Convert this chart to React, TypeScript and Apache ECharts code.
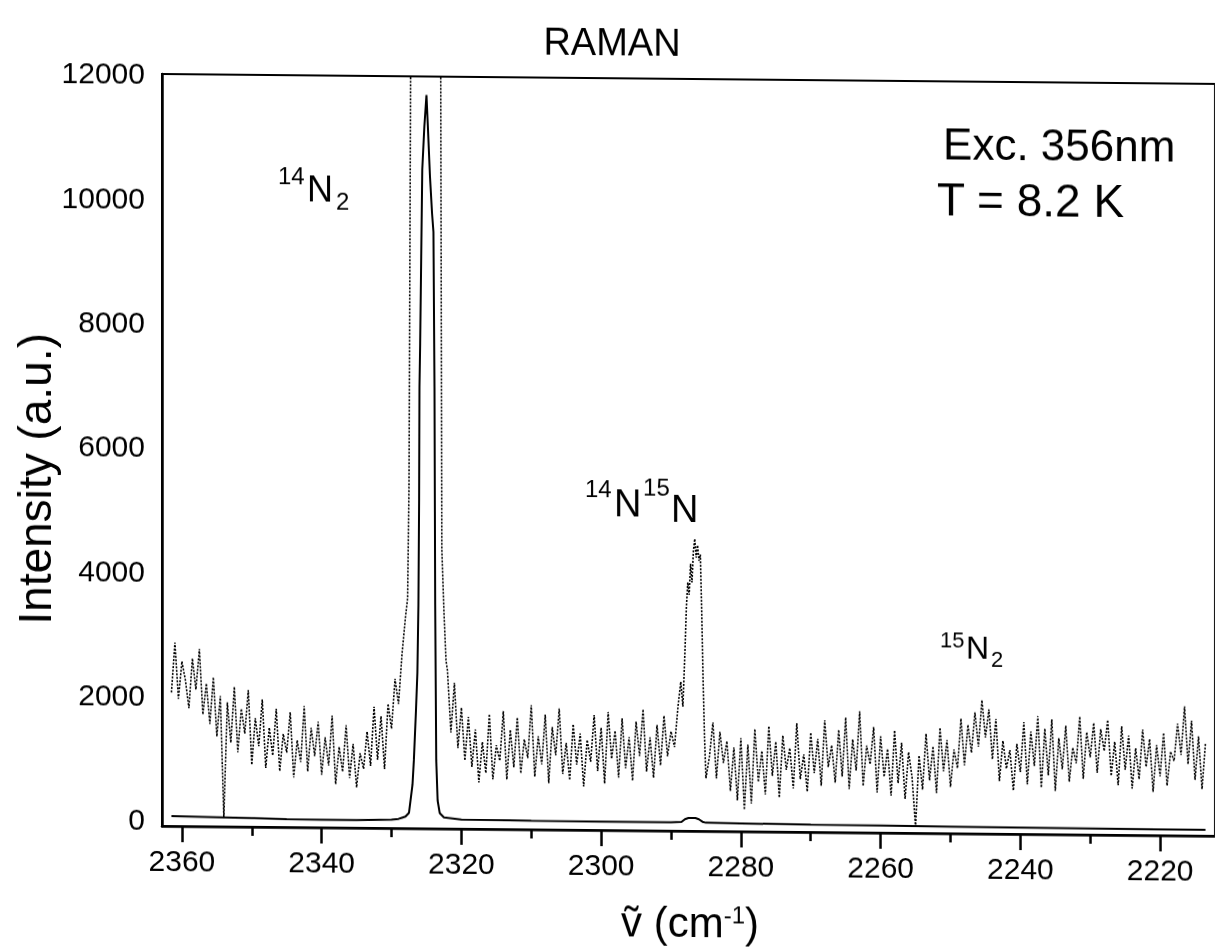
import React, { useEffect, useRef } from "react";
import * as echarts from "echarts";

// ---- axis ticks ----
const xMajorTicks = [2360, 2340, 2320, 2300, 2280, 2260, 2240, 2220];
const xMinorTicks = [2350, 2330, 2310, 2290, 2270, 2250, 2230];
const yTicks = [0, 2000, 4000, 6000, 8000, 10000, 12000];

// ---- magnified (dotted) spectrum, sampled every 0.5 cm-1 ----
const dottedSeg1Start = 2361.5;
const dottedSeg1 = [
  2050, 2850, 1950, 2550, 2250, 1800, 2600, 2100, 2750, 1700,
  2200, 1550, 2300, 1350, 2000, 40, 1900, 1250, 2150, 1100,
  1800, 1400, 2100, 900, 1650, 1200, 1950, 850, 1500, 1050,
  1800, 800, 1400, 1100, 1750, 700, 1300, 950, 1850, 800,
  1500, 1050, 1600, 750, 1350, 900, 1700, 600, 1200, 800,
  1550, 700, 1250, 550, 1100, 850, 1450, 900, 1850, 1000,
  1700, 850, 1900, 1500, 2300, 1900, 2700,
];
// 14N2 region (goes off scale)
const dottedPeak1: [number, number][] = [
  [2328.0, 3300], [2327.7, 3600], [2327.5, 5400], [2327.2, 14000],
  [2327.0, 40000], [2323.2, 40000], [2323.0, 14000], [2322.8, 4400],
  [2322.5, 3400], [2322.2, 2600],
];
const dottedSeg2Start = 2322.0;
const dottedSeg2 = [
  2450, 1450, 2250, 1200, 1850, 1000, 1700, 900, 1500, 650,
  1300, 800, 1750, 700, 1250, 1000, 1800, 700, 1500, 900,
  1700, 800, 1350, 1050, 1900, 750, 1400, 950, 1750, 650,
  1550, 1100, 1850, 800, 1300, 700, 1600, 950, 1450, 600,
  1350, 1000, 1750, 850, 1550, 650, 1800, 1050, 1500, 750,
  1700, 900, 1400, 700, 1650, 1100, 1850, 850, 1400, 750,
  1600, 950, 1750, 1100, 1500, 1250, 1900,
];
// 14N15N region
const dottedPeak2: [number, number][] = [
  [2288.6, 2300], [2288.3, 1900], [2288.0, 2800], [2287.8, 3500],
  [2287.6, 3900], [2287.4, 3700], [2287.2, 4200], [2287.0, 3900],
  [2286.8, 4400], [2286.6, 4600], [2286.4, 4300], [2286.2, 4500],
  [2286.0, 4250], [2285.8, 4350], [2285.6, 3400], [2285.4, 2300],
  [2285.2, 1400], [2285.0, 750],
];
const dottedSeg3Start = 2284.5;
const dottedSeg3 = [
  1100, 1650, 750, 1500, 1000, 1350, 550, 1250, 400, 1400,
  250, 1300, 350, 1550, 700, 1200, 500, 1600, 800, 1350,
  450, 1450, 900, 1250, 600, 1650, 750, 1150, 550, 1500,
  850, 1400, 650, 1700, 950, 1300, 700, 1550, 800, 1750,
  600, 1400, 900, 1850, 650, 1300, 1000, 1600, 550, 1450,
  800, 1250, 500, 1550, 700, 1350, 450, 1200, 800, 0,
  1150, 600, 1500, 750, 1300, 550, 1600, 900, 1400, 650,
  1250, 950, 1750, 1000, 1650, 1200, 1850, 1300, 2050, 1450,
  1900, 1100, 1750, 750, 1400, 950, 1250, 600, 1350, 900,
  1700, 700, 1550, 1000, 1800, 650, 1600, 850, 1750, 600,
  1450, 950, 1650, 750, 1300, 1050, 1800, 800, 1550, 1150,
  1700, 900, 1600, 1250, 1750, 850, 1400, 700, 1650, 950,
  1500, 650, 1300, 800, 1600, 1000, 1450, 600, 1350, 850,
  1550, 700, 1250, 1100, 1700, 1200, 1980, 1050, 1750, 800,
  1500, 650, 1400,
];

// ---- measured (solid) spectrum ----
const solidSpectrum: [number, number][] = [
  [2361.5, 60], [2355, 50], [2350, 40], [2345, 30], [2340, 25], [2335, 25],
  [2330, 35], [2329, 50], [2328.5, 70], [2328.0, 90], [2327.5, 150],
  [2327.0, 600], [2326.8, 1000], [2326.5, 1800], [2326.3, 2400],
  [2326.15, 3500], [2326.05, 5200], [2326.0, 7000], [2325.9, 7700],
  [2325.6, 10500], [2325.3, 11200], [2325.0, 11700], [2324.8, 11200],
  [2324.5, 10400], [2324.2, 9800], [2324.0, 9500], [2323.85, 7000],
  [2323.75, 3500], [2323.6, 1000], [2323.4, 350], [2323.1, 150],
  [2322.5, 80], [2320, 50], [2310, 40], [2300, 35], [2290, 35],
  [2288.5, 45], [2288.0, 90], [2287.5, 110], [2286.5, 110], [2286.0, 90],
  [2285.5, 50], [2285, 35], [2280, 30], [2270, 20], [2260, 15],
  [2250, 10], [2240, 5], [2230, 0], [2220, -5], [2213.5, -5],
];

function sampled(start: number, values: number[]): [number, number][] {
  return values.map((v, i) => [start - i * 0.5, v]);
}

const dottedSpectrum: [number, number][] = [
  ...sampled(dottedSeg1Start, dottedSeg1),
  ...dottedPeak1,
  ...sampled(dottedSeg2Start, dottedSeg2),
  ...dottedPeak2,
  ...sampled(dottedSeg3Start, dottedSeg3),
];

const AXIS_FONT = "Liberation Sans, Arial, sans-serif";
const NOTE_FONT = "Liberation Sans, Arial, sans-serif";

function txt(text: string, x: number, y: number, size: number, align = "left", extra: any = {}) {
  return {
    type: "text",
    x,
    y,
    silent: true,
    ...extra,
    style: {
      text,
      fill: "#000",
      font: `${size}px ${NOTE_FONT}`,
      textAlign: align,
      textVerticalAlign: "middle",
      align,
      verticalAlign: "middle",
    },
  };
}

export default function App() {
  const ref = useRef<HTMLDivElement>(null);
  useEffect(() => {
    const chart = echarts.init(ref.current!, null, { renderer: "svg" });
    const xMin = 2212.14;
    const xMax = 2362.85;
    const option: any = {
      animation: false,
      backgroundColor: "#fff",
      grid: {
        left: 162,
        right: -3,
        top: 74,
        bottom: 121,
        show: true,
        borderColor: "#000",
        borderWidth: 2,
        backgroundColor: "transparent",
      },
      xAxis: [
        {
          type: "value",
          min: xMin,
          max: xMax,
          inverse: true,
          position: "bottom",
          axisLine: { show: true, onZero: false, lineStyle: { color: "#000", width: 2.5 } },
          axisTick: {
            show: true,
            customValues: xMajorTicks,
            length: 16,
            lineStyle: { color: "#000", width: 2.5 },
          },
          axisLabel: {
            customValues: xMajorTicks,
            margin: 19,
            color: "#000",
            fontFamily: AXIS_FONT,
            fontSize: 30,
            formatter: (v: number) => String(v),
          },
          splitLine: { show: false },
        },
        {
          type: "value",
          min: xMin,
          max: xMax,
          inverse: true,
          position: "bottom",
          axisLine: { show: false, onZero: false },
          axisTick: {
            show: true,
            customValues: xMinorTicks,
            length: 9,
            lineStyle: { color: "#000", width: 2.5 },
          },
          axisLabel: { show: false },
          splitLine: { show: false },
        },
      ],
      yAxis: {
        type: "value",
        min: -100,
        max: 12000,
        axisLine: { show: true, onZero: false, lineStyle: { color: "#000", width: 2.5 } },
        axisTick: { show: false },
        axisLabel: {
          customValues: yTicks,
          margin: 17,
          color: "#000",
          fontFamily: AXIS_FONT,
          fontSize: 30,
          formatter: (v: number) => String(v),
        },
        splitLine: { show: false },
      },
      series: [
        {
          type: "line",
          xAxisIndex: 0,
          data: dottedSpectrum,
          showSymbol: false,
          symbol: "none",
          clip: true,
          lineStyle: { color: "#000", width: 1.6, type: [2, 1.5] },
          z: 2,
        },
        {
          type: "line",
          xAxisIndex: 0,
          data: solidSpectrum,
          showSymbol: false,
          symbol: "none",
          clip: true,
          lineStyle: { color: "#000", width: 2 },
          z: 3,
        },
      ],
      graphic: [
        txt("RAMAN", 612, 38, 38, "center"),
        // 14N2
        txt("14", 278, 175, 24),
        txt("N", 307, 188, 36),
        txt("2", 336, 200, 24),
        // 14N15N
        txt("14", 585, 485, 24),
        txt("N", 614, 499, 38),
        txt("15", 643, 483, 24),
        txt("N", 671, 504, 38),
        // 15N2
        txt("15", 940, 633, 22),
        txt("N", 966, 640, 32),
        txt("2", 991, 652, 22),
        // conditions
        txt("Exc. 356nm", 943, 137, 44),
        txt("T = 8.2 K", 937, 192, 46),
        // axis titles
        txt("Intensity (a.u.)", 35, 480, 46, "center", { rotation: Math.PI / 2 }),
        {
          type: "text",
          x: 690,
          y: 918,
          silent: true,
          style: {
            text: "{a|ṽ (cm}{s|-1}{a|)}",
            textAlign: "center",
            textVerticalAlign: "middle",
            align: "center",
            verticalAlign: "middle",
            rich: {
              a: { fontSize: 42, fontFamily: AXIS_FONT, fill: "#000", color: "#000" },
              s: {
                fontSize: 24,
                fontFamily: AXIS_FONT,
                fill: "#000",
                color: "#000",
                verticalAlign: "top",
              },
            },
          },
        },
      ],
    };
    chart.setOption(option);
    return () => chart.dispose();
  }, []);
  return (
    <div
      ref={ref}
      style={{
        position: "fixed",
        left: 0,
        top: 0,
        width: 1215,
        height: 947,
        background: "#fff",
        transform: "skewY(0.54deg)",
        transformOrigin: "162px 0px",
      }}
    />
  );
}
